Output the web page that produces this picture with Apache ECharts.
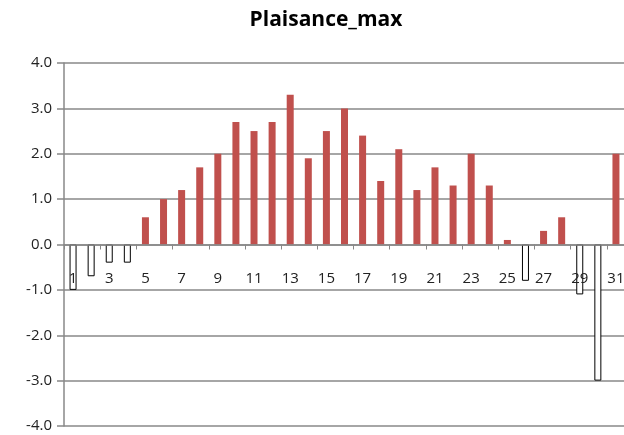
<!DOCTYPE html>
<html>
<head>
<meta charset="utf-8">
<script src="https://cdn.jsdelivr.net/npm/echarts@6/dist/echarts.min.js"></script>
<style>
  html, body { margin: 0; padding: 0; background: #fff; }
  #chart { width: 624px; height: 435px; }
</style>
</head>
<body>
<div id="chart"></div>
<script>
// days of the month
const days = [];
for (let d = 1; d <= 31; d++) days.push(String(d));

// Plaisance_max values
const values = [
  -1.0, -0.7, -0.4, -0.4, 0.6, 1.0, 1.2, 1.7, 2.0, 2.7,
  2.5, 2.7, 3.3, 1.9, 2.5, 3.0, 2.4, 1.4, 2.1, 1.2,
  1.7, 1.3, 2.0, 1.3, 0.1, -0.8, 0.3, 0.6, -1.1, -3.0,
  2.0
];

const yTicks = [-4, -3, -2, -1, 0, 1, 2, 3, 4];

const chart = echarts.init(document.getElementById('chart'));

// positive bars red, negative bars hollow
const barData = values.map(v => ({
  value: v,
  itemStyle: v >= 0
    ? { color: '#C0504D', borderWidth: 0 }
    : { color: '#ffffff', borderColor: '#000000', borderWidth: 1 }
}));

// grid height 363px over 8 units -> zero line sits half way up
const zeroOffset = -181.5;

const option = {
  animation: false,
  title: {
    text: 'Plaisance_max',
    left: 321,
    textAlign: 'center',
    top: 5,
    textStyle: {
      fontFamily: 'Open Sans',
      fontWeight: 'bold',
      fontSize: 21,
      color: '#000'
    }
  },
  grid: {
    left: 64,
    top: 63,
    width: 561,
    bottom: 9,
    containLabel: false,
    outerBoundsMode: 'none'
  },
  xAxis: {
    type: 'category',
    data: days,
    position: 'bottom',
    offset: zeroOffset,
    z: 10,
    axisLine: { onZero: false, lineStyle: { color: '#888', width: 1.5 } },
    axisTick: { show: true, length: 5, lineStyle: { color: '#888' } },
    axisLabel: {
      interval: 1,
      margin: 27,
      hideOverlap: false,
      fontFamily: 'Open Sans',
      fontSize: 15,
      color: '#222'
    }
  },
  yAxis: {
    type: 'value',
    min: yTicks[0],
    max: yTicks[yTicks.length - 1],
    interval: 1,
    axisLine: { show: true, lineStyle: { color: '#888', width: 1.5 } },
    axisTick: { show: true, length: 7, lineStyle: { color: '#888', width: 1.5 } },
    splitLine: { lineStyle: { color: '#888', width: 1.5 } },
    axisLabel: {
      margin: 12,
      fontFamily: 'Open Sans',
      fontSize: 15,
      color: '#222',
      formatter: v => v.toFixed(1)
    }
  },
  series: [{
    type: 'bar',
    data: barData,
    barWidth: 7
  }]
};

chart.setOption(option);
</script>
</body>
</html>
